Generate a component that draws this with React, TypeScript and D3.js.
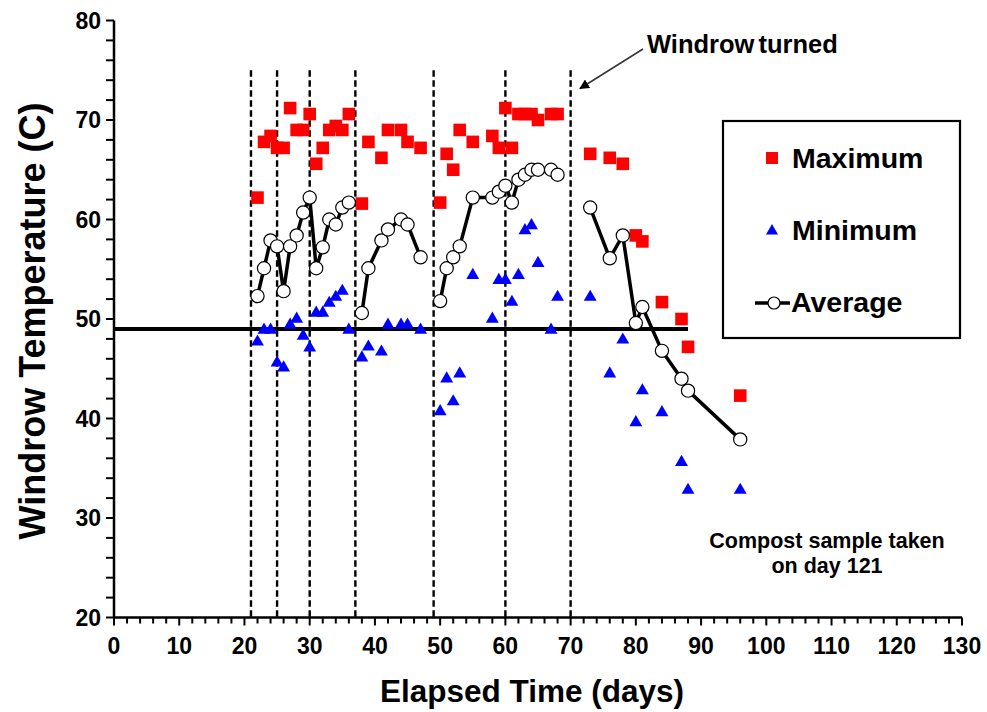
import React, { useEffect } from "react";
import * as d3 from "d3";

const W = 987;
const H = 712;
const MARGIN = { top: 20.5, right: 25, bottom: 94.5, left: 114 };

// Maximum windrow temperature (C)
const maxDays = [22, 23, 24, 25, 26, 27, 28, 29, 30, 31, 32, 33, 34, 35, 36, 38, 39, 41, 42, 44, 45, 47, 50, 51, 52, 53, 55, 58, 59, 60, 61, 62, 63, 64, 65, 67, 68, 73, 76, 78, 80, 81, 84, 87, 88, 96];
const maxTemps = [62.2, 67.8, 68.4, 67.2, 67.2, 71.2, 69.0, 69.0, 70.6, 65.6, 67.2, 69.0, 69.4, 69.0, 70.6, 61.6, 67.8, 66.2, 69.0, 69.0, 67.8, 67.2, 61.7, 66.6, 65.0, 69.0, 67.8, 68.4, 67.2, 71.2, 67.2, 70.6, 70.6, 70.6, 70.0, 70.6, 70.6, 66.6, 66.2, 65.6, 58.4, 57.8, 51.7, 50.0, 47.2, 42.3];

// Minimum windrow temperature (C)
const minDays = maxDays;
const minTemps = [47.7, 48.9, 48.9, 45.6, 45.1, 49.4, 50.0, 48.3, 47.1, 50.6, 50.6, 51.6, 52.2, 52.8, 48.9, 46.1, 47.2, 46.7, 49.4, 49.4, 49.4, 48.9, 40.7, 44.0, 41.7, 44.5, 54.4, 50.0, 53.9, 53.9, 51.7, 54.4, 58.9, 59.4, 55.6, 48.9, 52.2, 52.2, 44.5, 47.9, 39.6, 42.8, 40.6, 35.6, 32.8, 32.8];

// Average windrow temperature (C)
const avgDays = maxDays;
const avgTemps = [52.3, 55.1, 57.9, 57.3, 52.8, 57.3, 58.4, 60.7, 62.2, 55.1, 57.2, 60.0, 59.5, 61.2, 61.7, 50.6, 55.1, 57.9, 59.0, 60.0, 59.5, 56.2, 51.8, 55.1, 56.2, 57.3, 62.2, 62.2, 62.8, 63.4, 61.7, 64.0, 64.5, 65.0, 65.0, 65.0, 64.5, 61.2, 56.1, 58.4, 49.6, 51.2, 46.8, 44.0, 42.8, 37.9];
// the average line is broken at these days
const avgBreaks = [37, 49, 70];

// days the windrow was turned
const turnDays = [21, 25, 30, 37, 49, 60, 70];
const turnTop = 75;

// threshold line
const thresholdTemp = 49;
const thresholdEnd = 88;

const xTicks = d3.range(0, 131, 10);
const yTicks = d3.range(20, 81, 10);

const FONT = "'Liberation Sans', Arial, sans-serif";

export default function App() {
    useEffect(() => {
        document.body.style.margin = "0";
    }, []);

    const x = d3.scaleLinear().domain([0, 130]).range([MARGIN.left, W - MARGIN.right]);
    const y = d3.scaleLinear().domain([20, 80]).range([H - MARGIN.bottom, MARGIN.top]);

    const avgPts = avgDays.map((d, i) => ({ d, v: avgTemps[i] }));
    const segments: { d: number; v: number }[][] = [];
    let cur: { d: number; v: number }[] = [];
    avgPts.forEach((p, i) => {
        if (i > 0 && avgBreaks.some(b => avgPts[i - 1].d < b && p.d > b)) {
            segments.push(cur);
            cur = [];
        }
        cur.push(p);
    });
    segments.push(cur);

    const line = d3.line<{ d: number; v: number }>().x(p => x(p.d)).y(p => y(p.v));
    const tri = d3.symbol(d3.symbolTriangle, 72)();
    const triLegend = d3.symbol(d3.symbolTriangle, 62)();

    const y0 = y(20);

    return (
        <svg width={W} height={H} style={{ display: "block", position: "absolute", left: 0, top: 0 }} fontFamily={FONT}>
            <rect width={W} height={H} fill="#fff" />
            <defs>
                <marker id="ah" viewBox="0 0 10 10" refX="9" refY="5" markerWidth="10" markerHeight="10" markerUnits="userSpaceOnUse" orient="auto">
                    <path d="M0,0 L10,5 L0,10 z" fill="#000" />
                </marker>
            </defs>

            {/* turning lines */}
            {turnDays.map(d => (
                <line key={d} x1={x(d)} x2={x(d)} y1={y(turnTop)} y2={y0} stroke="#000" strokeWidth={2.4} strokeDasharray="6.5,3.5" />
            ))}

            {/* threshold */}
            <line x1={x(0)} x2={x(thresholdEnd)} y1={y(thresholdTemp)} y2={y(thresholdTemp)} stroke="#000" strokeWidth={4} />

            {/* axes */}
            <line x1={x(0)} x2={x(0)} y1={y(80)} y2={y0} stroke="#000" strokeWidth={2.5} />
            <line x1={x(0)} x2={x(130)} y1={y0} y2={y0} stroke="#000" strokeWidth={2.5} />
            {d3.range(20, 81, 2).map(v => (
                <line key={"yt" + v} x1={x(0) - 8} x2={x(0)} y1={y(v)} y2={y(v)} stroke="#000" strokeWidth={2} />
            ))}
            {d3.range(0, 131, 2).map(d => (
                <line key={"xt" + d} x1={x(d)} x2={x(d)} y1={y0} y2={y0 + (d % 10 === 0 ? 8 : 6)} stroke="#000" strokeWidth={2} />
            ))}
            {yTicks.map(v => (
                <text key={"yl" + v} x={x(0) - 13} y={y(v)} dy="0.36em" textAnchor="end" fontSize={23} fontWeight="bold">{v}</text>
            ))}
            {xTicks.map(d => (
                <text key={"xl" + d} x={x(d)} y={y0 + 36} textAnchor="middle" fontSize={23} fontWeight="bold">{d}</text>
            ))}
            <text x={532} y={702} textAnchor="middle" fontSize={31.5} fontWeight="bold">Elapsed Time (days)</text>
            <text transform="translate(32,321) rotate(-90)" dy="0.36em" textAnchor="middle" fontSize={36} fontWeight="bold">Windrow Temperature (C)</text>

            {/* maximum */}
            {maxDays.map((d, i) => (
                <rect key={"mx" + i} x={x(d) - 6.3} y={y(maxTemps[i]) - 6.3} width={12.6} height={12.6} fill="#ff0000" />
            ))}
            {/* minimum */}
            {minDays.map((d, i) => (
                <path key={"mn" + i} d={tri || ""} transform={`translate(${x(d)},${y(minTemps[i])})`} fill="#0000ff" />
            ))}
            {/* average */}
            {segments.map((s, i) => (
                <path key={"seg" + i} d={line(s) || ""} fill="none" stroke="#000" strokeWidth={3.5} strokeLinejoin="round" />
            ))}
            {avgPts.map((p, i) => (
                <circle key={"av" + i} cx={x(p.d)} cy={y(p.v)} r={6.6} fill="#fff" stroke="#000" strokeWidth={1.2} />
            ))}

            {/* annotations */}
            <line x1={643} y1={49} x2={580} y2={88.5} stroke="#333" strokeWidth={1.5} markerEnd="url(#ah)" />
            <text x={647} y={53} fontSize={25.5} fontWeight="bold" wordSpacing={-3}>Windrow turned</text>
            <text x={827} y={548} textAnchor="middle" fontSize={21.5} fontWeight="bold">Compost sample taken</text>
            <text x={827} y={573} textAnchor="middle" fontSize={21.5} fontWeight="bold">on day 121</text>

            {/* legend */}
            <rect x={723} y={121} width={237} height={217} fill="#fff" stroke="#000" strokeWidth={2.2} />
            <rect x={766} y={152} width={12} height={12} fill="#ff0000" />
            <text x={792} y={168} fontSize={28.5} fontWeight="bold">Maximum</text>
            <path d={triLegend || ""} transform="translate(772,231)" fill="#0000ff" />
            <text x={792} y={240} fontSize={28.5} fontWeight="bold">Minimum</text>
            <line x1={755} x2={790} y1={303} y2={303} stroke="#000" strokeWidth={3.5} />
            <circle cx={774} cy={303} r={6} fill="#fff" stroke="#000" strokeWidth={1.2} />
            <text x={791} y={312} fontSize={28.5} fontWeight="bold">Average</text>
        </svg>
    );
}
